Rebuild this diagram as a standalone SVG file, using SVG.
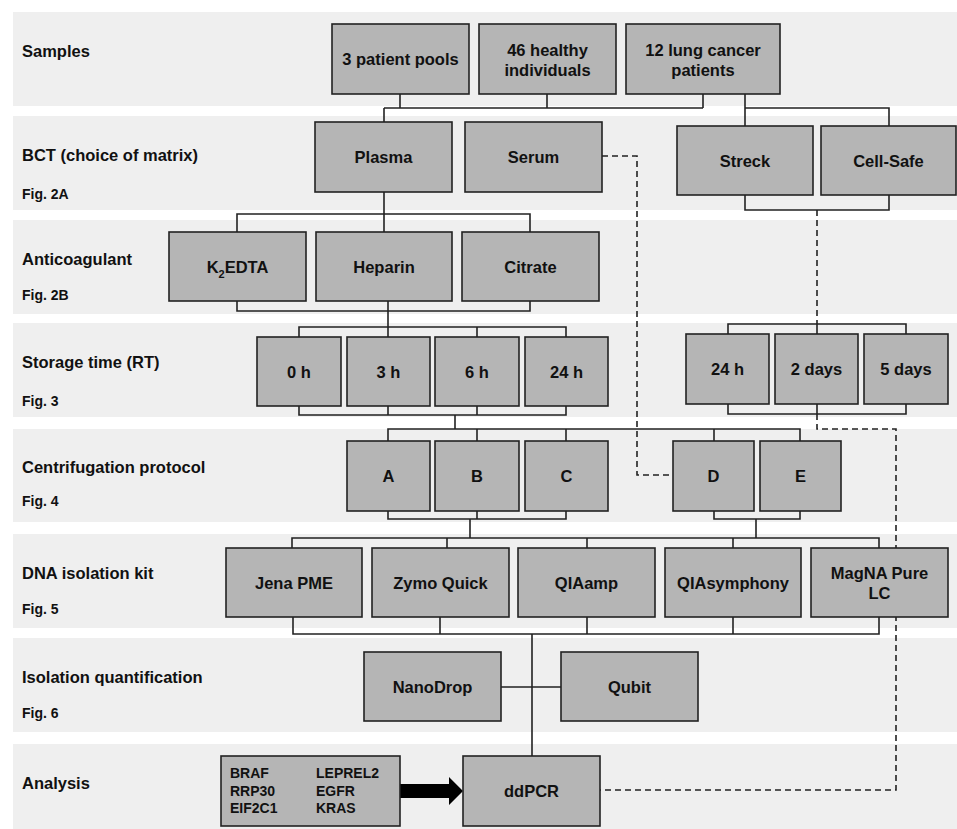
<svg xmlns="http://www.w3.org/2000/svg" width="957" height="829" viewBox="0 0 957 829">
<style>
.band{fill:#efefef}
.lbl{font-family:"Liberation Sans",Arial,sans-serif;font-weight:bold;font-size:16.5px;fill:#111}
.fig{font-family:"Liberation Sans",Arial,sans-serif;font-weight:bold;font-size:14px;fill:#111}
.node rect{fill:#b5b5b5;stroke:#222;stroke-width:1.6}
.node text{font-family:"Liberation Sans",Arial,sans-serif;font-weight:bold;font-size:16.5px;fill:#111;text-anchor:middle}
.node text.genes{font-size:14px;text-anchor:start}
.conn path{stroke:#222;stroke-width:1.6;fill:none}
.conn path.dash{stroke-dasharray:6 4}
</style>
<rect width="957" height="829" fill="#ffffff"/>
<g id="bands">
<rect class="band" x="13" y="12" width="944" height="94"/>
<rect class="band" x="13" y="116" width="944" height="94"/>
<rect class="band" x="13" y="220" width="944" height="94"/>
<rect class="band" x="13" y="323" width="944" height="94"/>
<rect class="band" x="13" y="429" width="944" height="93"/>
<rect class="band" x="13" y="534" width="944" height="94"/>
<rect class="band" x="13" y="638" width="944" height="94"/>
<rect class="band" x="13" y="744" width="944" height="85"/>
</g>
<g id="labels">
<text class="lbl" x="22" y="57">Samples</text>
<text class="lbl" x="22" y="161">BCT (choice of matrix)</text>
<text class="fig" x="22" y="199">Fig. 2A</text>
<text class="lbl" x="22" y="265">Anticoagulant</text>
<text class="fig" x="22" y="300">Fig. 2B</text>
<text class="lbl" x="22" y="368">Storage time (RT)</text>
<text class="fig" x="22" y="406">Fig. 3</text>
<text class="lbl" x="22" y="473">Centrifugation protocol</text>
<text class="fig" x="22" y="506">Fig. 4</text>
<text class="lbl" x="22" y="579">DNA isolation kit</text>
<text class="fig" x="22" y="614">Fig. 5</text>
<text class="lbl" x="22" y="683">Isolation quantification</text>
<text class="fig" x="22" y="718">Fig. 6</text>
<text class="lbl" x="22" y="789">Analysis</text>
</g>
<g id="connectors" class="conn">
<path d="M400,94 V108 M547,94 V108 M703,94 V108 M384,108 H703 M384,108 V122"/>
<path d="M745,94 V126 M745,108 H889 V126"/>
<path d="M745,195 V210 H889 V195"/>
<path d="M384,192 V232 M237,232 V214 H530 V232"/>
<path d="M237,301 V311 H530 V301 M388,301 V337 M299,337 V327 H566 V337 M477,327 V337"/>
<path d="M299,406 V415 H566 V406 M388,406 V415 M477,406 V415 M455,415 V429"/>
<path d="M388,441 V429 H800 V441 M477,429 V441 M566,429 V441 M714,429 V441"/>
<path d="M728,334 V324 H906 V334 M817,324 V334"/>
<path d="M728,404 V414 H906 V404 M817,404 V414"/>
<path d="M388,511 V519 H566 V511 M477,511 V519 M470,519 V538"/>
<path d="M714,511 V519 H800 V511 M756,519 V538"/>
<path d="M292,548 V538 H879 V548 M447,538 V548 M587,538 V548 M733,538 V548"/>
<path d="M293,617 V634 H879 V617 M440,617 V634 M587,617 V634 M733,617 V634"/>
<path d="M532,634 V756 M501,687 H562"/>
<path class="dash" d="M602,156 H637 V475 H673"/>
<path class="dash" d="M817,210 V324"/>
<path class="dash" d="M817,414 V429 H896 V790 H600"/>
<polygon points="400,784 449,784 449,777 463,791 449,805 449,798 400,798" fill="#000"/>
</g>
<g id="n-pools" class="node"><rect x="332" y="24" width="137" height="70"/><text x="400.5" y="65">3 patient pools</text></g>
<g id="n-healthy" class="node"><rect x="479" y="24" width="137" height="70"/><text x="547.5" y="56">46 healthy</text><text x="547.5" y="76">individuals</text></g>
<g id="n-lung" class="node"><rect x="626" y="24" width="154" height="70"/><text x="703" y="56">12 lung cancer</text><text x="703" y="76">patients</text></g>
<g id="n-plasma" class="node"><rect x="315" y="122" width="137" height="70"/><text x="383.5" y="163">Plasma</text></g>
<g id="n-serum" class="node"><rect x="465" y="122" width="137" height="70"/><text x="533.5" y="163">Serum</text></g>
<g id="n-streck" class="node"><rect x="677" y="126" width="136" height="69"/><text x="745" y="167">Streck</text></g>
<g id="n-cellsafe" class="node"><rect x="821" y="126" width="135" height="69"/><text x="888.5" y="167">Cell-Safe</text></g>
<g id="n-k2edta" class="node"><rect x="169" y="232" width="137" height="69"/><text x="237.5" y="273">K<tspan font-size="11" dy="5">2</tspan><tspan dy="-5">EDTA</tspan></text></g>
<g id="n-heparin" class="node"><rect x="316" y="232" width="136" height="69"/><text x="384" y="273">Heparin</text></g>
<g id="n-citrate" class="node"><rect x="462" y="232" width="137" height="69"/><text x="530.5" y="273">Citrate</text></g>
<g id="n-0h" class="node"><rect x="257" y="337" width="84" height="69"/><text x="299" y="378">0 h</text></g>
<g id="n-3h" class="node"><rect x="347" y="337" width="83" height="69"/><text x="388.5" y="378">3 h</text></g>
<g id="n-6h" class="node"><rect x="435" y="337" width="84" height="69"/><text x="477" y="378">6 h</text></g>
<g id="n-24h" class="node"><rect x="525" y="337" width="83" height="69"/><text x="566.5" y="378">24 h</text></g>
<g id="n-24h-b" class="node"><rect x="686" y="334" width="83" height="70"/><text x="727.5" y="375">24 h</text></g>
<g id="n-2days" class="node"><rect x="775" y="334" width="83" height="70"/><text x="816.5" y="375">2 days</text></g>
<g id="n-5days" class="node"><rect x="864" y="334" width="84" height="70"/><text x="906" y="375">5 days</text></g>
<g id="n-a" class="node"><rect x="347" y="441" width="83" height="70"/><text x="388.5" y="482">A</text></g>
<g id="n-b" class="node"><rect x="435" y="441" width="84" height="70"/><text x="477" y="482">B</text></g>
<g id="n-c" class="node"><rect x="525" y="441" width="83" height="70"/><text x="566.5" y="482">C</text></g>
<g id="n-d" class="node"><rect x="673" y="441" width="81" height="70"/><text x="713.5" y="482">D</text></g>
<g id="n-e" class="node"><rect x="760" y="441" width="81" height="70"/><text x="800.5" y="482">E</text></g>
<g id="n-jena" class="node"><rect x="226" y="548" width="136" height="69"/><text x="294" y="589">Jena PME</text></g>
<g id="n-zymo" class="node"><rect x="372" y="548" width="137" height="69"/><text x="440.5" y="589">Zymo Quick</text></g>
<g id="n-qiaamp" class="node"><rect x="518" y="548" width="137" height="69"/><text x="586.5" y="589">QIAamp</text></g>
<g id="n-qiasym" class="node"><rect x="665" y="548" width="136" height="69"/><text x="733" y="589">QIAsymphony</text></g>
<g id="n-magna" class="node"><rect x="811" y="548" width="137" height="69"/><text x="879.5" y="579">MagNA Pure</text><text x="879.5" y="599">LC</text></g>
<g id="n-nanodrop" class="node"><rect x="364" y="652" width="137" height="69"/><text x="432.5" y="693">NanoDrop</text></g>
<g id="n-qubit" class="node"><rect x="561" y="652" width="137" height="69"/><text x="629.5" y="693">Qubit</text></g>
<g id="n-genes" class="node"><rect x="221" y="756" width="179" height="70"/>
<text class="genes" x="230" y="778">BRAF</text><text class="genes" x="230" y="796">RRP30</text><text class="genes" x="230" y="813">EIF2C1</text>
<text class="genes" x="316" y="778">LEPREL2</text><text class="genes" x="316" y="796">EGFR</text><text class="genes" x="316" y="813">KRAS</text></g>
<g id="n-ddpcr" class="node"><rect x="463" y="756" width="137" height="70"/><text x="531.5" y="797">ddPCR</text></g>
</svg>
